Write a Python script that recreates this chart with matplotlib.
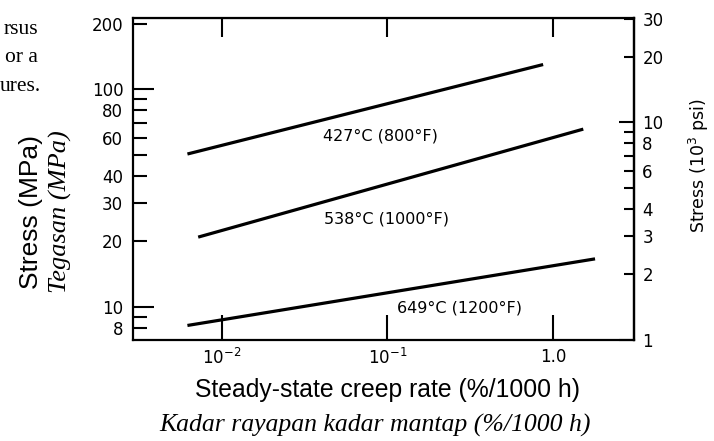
import matplotlib
matplotlib.use("Agg")
import matplotlib.pyplot as plt
from matplotlib.ticker import FixedLocator, FixedFormatter, NullLocator

# ---------------- data ----------------
rate_427 = [0.0062, 0.87]
stress_427 = [50.4, 130.0]
rate_538 = [0.0072, 1.52]
stress_538 = [20.9, 65.6]
rate_649 = [0.0062, 1.79]
stress_649 = [8.2, 16.6]

curve_labels = ["427°C (800°F)", "538°C (1000°F)", "649°C (1200°F)"]
label_rate = [0.091, 0.099, 0.272]
label_stress = [60.8, 25.4, 9.9]

x_major = [0.01, 0.1, 1.0]
x_major_labels = ["10$^{-2}$", "10$^{-1}$", "1.0"]

y_major = [10, 100]
y_major_labels = ["10", "100"]
y_minor = [8, 9, 20, 30, 40, 50, 60, 70, 80, 90, 200]
y_minor_labels = ["8", "", "20", "30", "40", "", "60", "", "80", "", "200"]

ksi_major = [1, 10]
ksi_major_labels = ["1", "10"]
ksi_minor = [2, 3, 4, 5, 6, 7, 8, 9, 20, 30]
ksi_minor_labels = ["2", "3", "4", "", "6", "", "8", "", "20", "30"]
mpa_per_ksi = 7.05

caption_lines = ["rsus", "or a", "ures."]

# ---------------- figure ----------------
W, H = 714, 441
fig = plt.figure(figsize=(W / 100, H / 100), dpi=100)
fig.patch.set_facecolor("white")
ax = fig.add_axes([133 / W, 1 - 340 / H, (634 - 133) / W, (340 - 18) / H])
ax.set_xscale("log")
ax.set_yscale("log")
ax.set_xlim(0.00291, 3.076)
ax.set_ylim(7.03, 212.8)

for sp in ax.spines.values():
    sp.set_linewidth(1.6)

lw = 2.3
ax.plot(rate_427, stress_427, color="black", lw=lw, solid_capstyle="butt")
ax.plot(rate_538, stress_538, color="black", lw=lw, solid_capstyle="butt")
ax.plot(rate_649, stress_649, color="black", lw=lw, solid_capstyle="butt")

for t, xr, ys in zip(curve_labels, label_rate, label_stress):
    ax.text(xr, ys, t, ha="center", va="center", fontsize=11.5,
            family="DejaVu Sans")

# x axis
ax.xaxis.set_major_locator(FixedLocator(x_major))
ax.xaxis.set_major_formatter(FixedFormatter(x_major_labels))
ax.xaxis.set_minor_locator(NullLocator())
ax.tick_params(axis="x", which="major", direction="in", length=18, width=1.5,
               pad=6, labelsize=12)
secx = ax.secondary_xaxis("top")
secx.xaxis.set_major_locator(FixedLocator(x_major))
secx.xaxis.set_minor_locator(NullLocator())
secx.tick_params(axis="x", which="major", direction="in", length=14, width=1.5,
                 labeltop=False)

# left y axis
ax.yaxis.set_major_locator(FixedLocator(y_major))
ax.yaxis.set_major_formatter(FixedFormatter(y_major_labels))
ax.yaxis.set_minor_locator(FixedLocator(y_minor))
ax.yaxis.set_minor_formatter(FixedFormatter(y_minor_labels))
ax.tick_params(axis="y", which="major", direction="in", length=15, width=1.5,
               pad=7, labelsize=12)
ax.tick_params(axis="y", which="minor", direction="in", length=10, width=1.5,
               pad=7, labelsize=12)

# right y axis (10^3 psi)
secy = ax.secondary_yaxis("right", functions=(lambda y: y / mpa_per_ksi,
                                              lambda y: y * mpa_per_ksi))
secy.yaxis.set_major_locator(FixedLocator(ksi_major))
secy.yaxis.set_major_formatter(FixedFormatter(ksi_major_labels))
secy.yaxis.set_minor_locator(FixedLocator(ksi_minor))
secy.yaxis.set_minor_formatter(FixedFormatter(ksi_minor_labels))
secy.tick_params(axis="y", which="major", direction="in", length=11, width=1.5,
                 pad=6, labelsize=12)
secy.tick_params(axis="y", which="minor", direction="in", length=7, width=1.5,
                 pad=6, labelsize=12)
secy.spines["right"].set_linewidth(1.6)

# axis titles
fig.text(388 / W, 1 - 397 / H, "Steady-state creep rate (%/1000 h)",
         ha="center", va="baseline", fontsize=17.8, family="Liberation Sans")
fig.text(375 / W, 1 - 432 / H, "Kadar rayapan kadar mantap (%/1000 h)",
         ha="center", va="baseline", fontsize=18.5, family="Liberation Serif",
         style="italic")
fig.text(31 / W, 1 - 212 / H, "Stress (MPa)", ha="center", va="center",
         rotation=90, fontsize=19, family="Liberation Sans")
fig.text(60 / W, 1 - 212 / H, "Tegasan (MPa)", ha="center", va="center",
         rotation=90, fontsize=19, family="Liberation Serif", style="italic")
fig.text(699 / W, 1 - 166 / H, "Stress (10$^3$ psi)", ha="center", va="center",
         rotation=90, fontsize=12.5, family="DejaVu Sans")

# cropped caption fragment at top-left
for txt, xr, yc in zip(caption_lines, [38, 38, 41], [30, 58, 86]):
    fig.text(xr / W, 1 - yc / H, txt, ha="right", va="center", fontsize=15.5,
             family="Liberation Serif")

fig.savefig("out.png", dpi=100, facecolor="white")
